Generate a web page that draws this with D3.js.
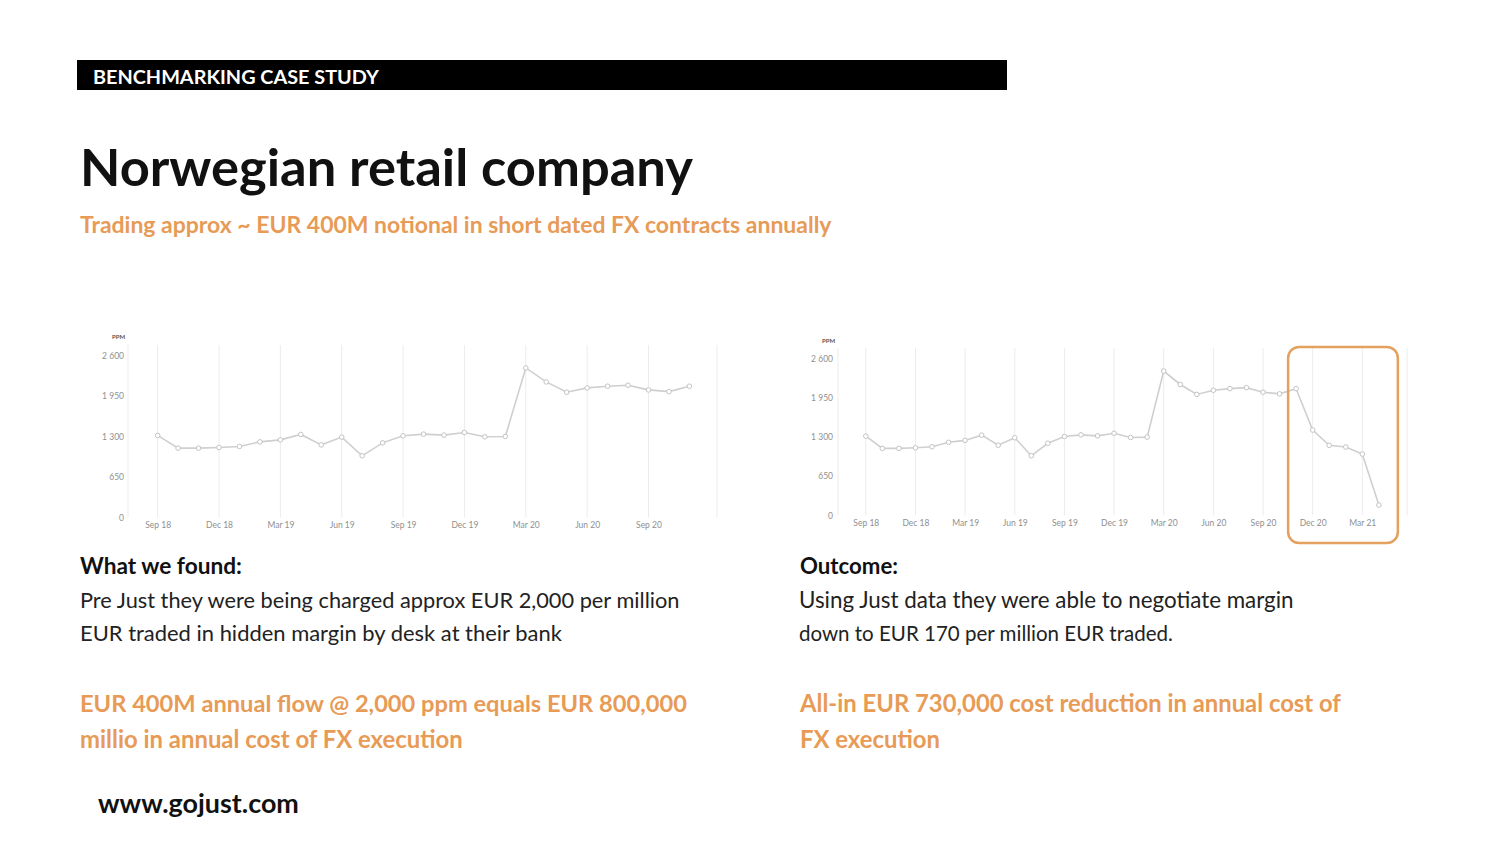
<!DOCTYPE html>
<html><head><meta charset="utf-8">
<script src="https://cdn.jsdelivr.net/npm/d3@7"></script>
<style>
html,body{margin:0;padding:0;background:#fff;}
svg{display:block;}
</style></head>
<body>
<svg id="c" width="1500" height="852"></svg>
<script>
// ---- data ----
const months = ["Sep 18","Oct 18","Nov 18","Dec 18","Jan 19","Feb 19","Mar 19","Apr 19","May 19","Jun 19","Jul 19","Aug 19","Sep 19","Oct 19","Nov 19","Dec 19","Jan 20","Feb 20","Mar 20","Apr 20","May 20","Jun 20","Jul 20","Aug 20","Sep 20","Oct 20","Nov 20","Dec 20","Jan 21","Feb 21","Mar 21","Apr 21"];
const ppmBefore = [1317,1113,1113,1124,1140,1214,1246,1333,1166,1290,990,1198,1311,1338,1322,1365,1295,1301,2400,2176,2011,2080,2107,2123,2048,2020,2107];
const ppmAfter = [1418,1164,1136,1019,170];
const yTicks = [0,650,1300,1950,2600];
const yTickLabels = ["0","650","1 300","1 950","2 600"];
const quarterLabelsLeft = ["Sep 18","Dec 18","Mar 19","Jun 19","Sep 19","Dec 19","Mar 20","Jun 20","Sep 20"];
const quarterLabelsRight = ["Sep 18","Dec 18","Mar 19","Jun 19","Sep 19","Dec 19","Mar 20","Jun 20","Sep 20","Dec 20","Mar 21"];

const ORANGE = "#E79B56";
const FONT = "Lato, 'Open Sans', sans-serif";
const svg = d3.select("#c");

// helper: text fitted to a target width
function fitText(x, y, str, width, size, weight, color, anchor){
  const t = svg.append("text").attr("x", x).attr("y", y).text(str)
    .attr("font-family", FONT).attr("font-size", size).attr("font-weight", weight)
    .attr("fill", color).attr("text-anchor", anchor || "start");
  const w = t.node().getComputedTextLength();
  if (w > 0) t.attr("font-size", size * width / w);
  return t;
}

// header bar
svg.append("rect").attr("x",77).attr("y",60).attr("width",930).attr("height",30).attr("fill","#000");
fitText(93, 84, "BENCHMARKING CASE STUDY", 286, 20, 700, "#fff");
fitText(80, 186, "Norwegian retail company", 613, 46, 700, "#111");
fitText(80, 233, "Trading approx ~ EUR 400M  notional in short dated FX contracts annually", 752, 20, 700, ORANGE);

// left texts
fitText(80, 574, "What we found:", 162, 20, 700, "#111");
fitText(80, 608, "Pre Just they were being charged approx EUR 2,000 per million", 600, 20, 400, "#222");
fitText(80, 641, "EUR traded in hidden margin by desk at their bank", 482, 20, 400, "#222");
fitText(80, 712, "EUR 400M annual flow @ 2,000 ppm equals EUR 800,000", 607, 22, 700, ORANGE);
fitText(80, 748, "millio in annual cost of FX execution", 383, 22, 700, ORANGE);

// right texts
fitText(800, 574, "Outcome:", 98, 20, 700, "#111");
fitText(799, 608, "Using Just data they were able to negotiate margin", 495, 20, 400, "#222");
fitText(799, 641, "down to EUR 170 per million EUR traded.", 374, 20, 400, "#222");
fitText(800, 712, "All-in EUR 730,000 cost reduction in annual cost of", 541, 22, 700, ORANGE);
fitText(800, 748, "FX execution", 140, 22, 700, ORANGE);

// footer
fitText(98, 813, "www.gojust.com", 201, 22, 700, "#111");

// ---- charts ----
function drawChart(opts){
  const g = svg.append("g");
  const x = d3.scaleLinear().domain(opts.xDomain).range([opts.left, opts.right]);
  const y = d3.scaleLinear().domain([0, 2600]).range([opts.bottom, opts.top]);
  const n = opts.values.length;

  // vertical gridlines: plot edges + quarters
  const qIdx = opts.quarters.map((d,i)=> i*3);
  const gridX = [opts.xDomain[0], ...qIdx, opts.xDomain[1]];
  g.selectAll("line.grid").data(gridX).join("line")
    .attr("x1", d=>x(d)).attr("x2", d=>x(d))
    .attr("y1", opts.gridTop).attr("y2", opts.bottom)
    .attr("stroke", "#ececec").attr("stroke-width", 1);

  // y axis labels
  const yAxis = d3.axisLeft(y).tickValues(yTicks).tickFormat((d,i)=>yTickLabels[i]).tickSize(0).tickPadding(0);
  const ya = g.append("g").attr("transform", `translate(${opts.yLabelX},0)`).call(yAxis);
  ya.select(".domain").remove();
  ya.selectAll("text").attr("font-family", FONT).attr("font-size", 8.5).attr("fill", "#8f8f8f");

  // x axis labels
  const xAxis = d3.axisBottom(x).tickValues(qIdx).tickFormat((d,i)=>opts.quarters[i]).tickSize(0).tickPadding(0);
  const xa = g.append("g").attr("transform", `translate(0,${opts.xLabelY})`).call(xAxis);
  xa.select(".domain").remove();
  xa.selectAll("text").attr("font-family", FONT).attr("font-size", 8.5).attr("fill", "#8f8f8f");

  // PPM label
  g.append("text").attr("x", opts.ppmX).attr("y", opts.ppmY).text("PPM")
    .attr("font-family", FONT).attr("font-size", 6).attr("font-weight", 700).attr("fill", "#555");

  // line
  const line = d3.line().x((d,i)=>x(i)).y(d=>y(d));
  g.append("path").datum(opts.values).attr("d", line)
    .attr("fill","none").attr("stroke","#cfcfcf").attr("stroke-width",1.6);
  g.selectAll("circle").data(opts.values).join("circle")
    .attr("cx",(d,i)=>x(i)).attr("cy",d=>y(d)).attr("r",2.3)
    .attr("fill","#fff").attr("stroke","#c4c4c4").attr("stroke-width",1);
  return {x, y, g};
}

drawChart({
  values: ppmBefore,
  quarters: quarterLabelsLeft,
  xDomain: [-1.45, 27.35], left: 128, right: 717,
  top: 355.5, bottom: 517.5, gridTop: 345,
  yLabelX: 124, xLabelY: 522, ppmX: 112, ppmY: 339
});

const right = drawChart({
  values: ppmBefore.concat(ppmAfter),
  quarters: quarterLabelsRight,
  xDomain: [-1.68, 32.7], left: 838, right: 1407,
  top: 359, bottom: 515.3, gridTop: 348,
  yLabelX: 833, xLabelY: 519.5, ppmX: 822, ppmY: 343
});

// highlight box around the post-Just period (Nov 20 – Apr 21)
const bx0 = right.x(26) - 8, bx1 = right.x(31) + 19;
svg.append("rect").attr("x", bx0).attr("y", 347).attr("width", bx1 - bx0).attr("height", 196)
  .attr("rx", 11).attr("fill","none").attr("stroke", "#E4A05F").attr("stroke-width", 2.5);
</script>
</body></html>
